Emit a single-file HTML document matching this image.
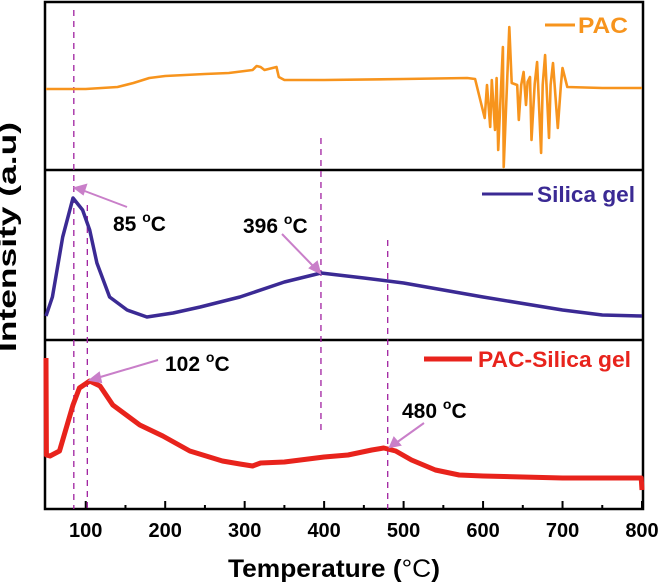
<!DOCTYPE html>
<html><head><meta charset="utf-8"><style>
body{margin:0;background:#fff;}
svg{display:block;font-family:"Liberation Sans",Arial,sans-serif;}
</style></head><body>
<svg id="chart" width="664" height="585" viewBox="0 0 664 585">
<g id="frame">
<rect x="45" y="2" width="598" height="507" fill="none" stroke="#000" stroke-width="2.5"/>
<line x1="45" y1="170" x2="643" y2="170" stroke="#000" stroke-width="2.5"/>
<line x1="45" y1="340" x2="643" y2="340" stroke="#000" stroke-width="2.5"/>
</g>
<g id="ticks"></g>
<g id="guides"></g>
<g id="series"></g>
<text x="16" y="237" font-size="25" font-weight="bold" text-anchor="middle" textLength="230" lengthAdjust="spacingAndGlyphs" transform="rotate(-90 16 237)">Intensity (a.u)</text>
<text x="228" y="577" font-size="25" font-weight="bold" textLength="212" lengthAdjust="spacingAndGlyphs">Temperature (<tspan font-weight="normal">°C</tspan>)</text>
<g>
<line x1="545" y1="25" x2="575" y2="25" stroke="#f7941d" stroke-width="3"/>
<text x="578" y="33" font-size="22" font-weight="bold" fill="#f7941d" textLength="50" lengthAdjust="spacingAndGlyphs">PAC</text>
</g>
<g>
<line x1="482" y1="194" x2="533" y2="194" stroke="#3b2a94" stroke-width="3"/>
<text x="537" y="202" font-size="22" font-weight="bold" fill="#3b2a94" textLength="98" lengthAdjust="spacingAndGlyphs">Silica gel</text>
</g>
<g>
<line x1="424" y1="359" x2="472" y2="359" stroke="#e8231c" stroke-width="5"/>
<text x="478" y="367" font-size="22" font-weight="bold" fill="#e8231c" textLength="153" lengthAdjust="spacingAndGlyphs">PAC-Silica gel</text>
</g>
<g fill="#000" font-size="21" font-weight="bold">
<text x="113" y="231">85 <tspan font-size="14" dy="-9">o</tspan><tspan dy="9">C</tspan></text>
<text x="243" y="233">396 <tspan font-size="14" dy="-9">o</tspan><tspan dy="9">C</tspan></text>
<text x="165" y="371">102 <tspan font-size="14" dy="-9">o</tspan><tspan dy="9">C</tspan></text>
<text x="402" y="418">480 <tspan font-size="14" dy="-9">o</tspan><tspan dy="9">C</tspan></text>
</g>
<g stroke="#c97fc9" stroke-width="2" fill="#c97fc9">
<line x1="127" y1="207" x2="82" y2="190"/>
<polygon points="75,188 86,185 83,194"/>
<line x1="282" y1="234" x2="315" y2="268"/>
<polygon points="320,273 310,268 317,262"/>
<line x1="158" y1="360" x2="97" y2="378"/>
<polygon points="90,380 99,373 101,382"/>
<line x1="424" y1="423" x2="396" y2="443"/>
<polygon points="390,447 394,438 400,445"/>
</g>
</svg>
<script>
const xTicks = [100, 200, 300, 400, 500, 600, 700, 800];
const xMinor = [150, 250, 350, 450, 550, 650, 750];
const pacTemp = [50,100,140,160,180,200,250,280,300,310,315,320,325,335,340,343,350,400,500,580,590,602,605,609,611,615,617,619,625,626,633,636,643,645,648,651,654,656,659,661,665,668,673,675,678,683,685,688,694,698,700,706,750,800];
const pacVal  = [81,81,83,87,92,94,96,97,99,100,104,103,100,102,103,93,90,90,91,92,91,52,85,43,90,40,92,20,123,3,143,87,85,50,85,98,65,88,93,30,86,108,17,85,115,32,85,107,42,85,102,83,82,82];
const silTemp = [50,58,71,84,96,105,114,130,152,177,210,244,294,350,396,450,500,600,700,750,800];
const silVal  = [24,43,103,142,130,110,77,43,30,23,27,33,43,58,67,62,57,43,30,25,24];
const pscTemp = [50,50.5,55,67,84,92,105,118,134,168,197,231,272,294,310,320,350,400,430,460,475,490,510,540,570,600,700,799,800];
const pscVal  = [151,54,53,58,104,121,128,123,104,84,73,58,48,45,43,46,47,52,54,59,61,58,49,39,34,33,31,31,19];
const peakTemps = [85, 102, 396, 480];
const peakTop = [10, 205, 138, 240];
const peakBottom = [509, 509, 435, 509];

const NS = 'http://www.w3.org/2000/svg';
const X0 = 46, XMAX = 642, TMIN = 50, TMAX = 800;
function xScale(t){ return X0 + (t - TMIN) * (XMAX - X0) / (TMAX - TMIN); }
function yScale(v, base){ return base - v; }
function mk(tag, attrs, parent){ const e = document.createElementNS(NS, tag); for (const k in attrs) e.setAttribute(k, attrs[k]); parent.appendChild(e); return e; }

const tg = document.getElementById('ticks');
xTicks.forEach(t => {
  const l = mk('line', {x1: xScale(t), x2: xScale(t), y1: 509, y2: 501, stroke: '#000', 'stroke-width': 2}, tg);
  
  
  const tx = mk('text', {x: xScale(t), y: 537, 'font-size': 20, 'font-weight': 'bold', 'text-anchor': 'middle'}, tg);
  tx.textContent = t;
  
  
});
xMinor.forEach(t => {
  const l = mk('line', {x1: xScale(t), x2: xScale(t), y1: 509, y2: 505, stroke: '#000', 'stroke-width': 2}, tg);
  
  
});

const gg = document.getElementById('guides');
peakTemps.forEach((t, i) => {
  const l = mk('line', {x1: xScale(t), x2: xScale(t), y1: peakTop[i], y2: peakBottom[i], stroke: '#a020a0', 'stroke-width': 1.3, 'stroke-dasharray': '6,5'}, gg);
  
  
});

const sg = document.getElementById('series');
function drawSeries(temps, vals, base, color, w, name){
  const d = temps.map((t, i) => (i ? 'L' : 'M') + xScale(t).toFixed(1) + ',' + yScale(vals[i], base).toFixed(1)).join(' ');
  const p = mk('path', {d: d, fill: 'none', stroke: color, 'stroke-width': w, 'stroke-linejoin': 'round'}, sg);
  
  
}
drawSeries(pacTemp, pacVal, 170, '#f7941d', 2.6, 'pac-line');
drawSeries(silTemp, silVal, 340, '#3b2a94', 3.5, 'silica-gel-line');
drawSeries(pscTemp, pscVal, 509, '#e8231c', 5, 'pac-silica-gel-line');
</script>
</body></html>
